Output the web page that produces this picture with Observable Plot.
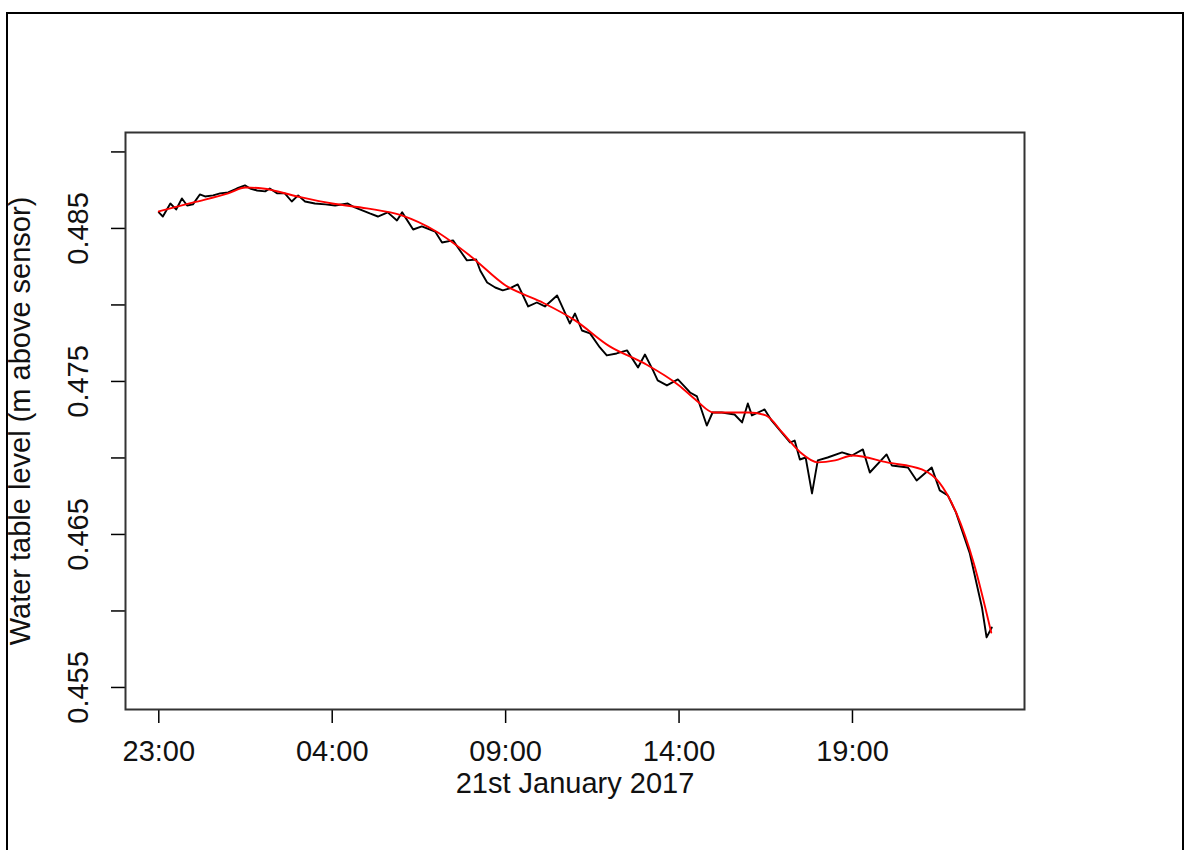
<!DOCTYPE html>
<html>
<head>
<meta charset="utf-8">
<script src="https://cdn.jsdelivr.net/npm/d3@7"></script>
<script src="https://cdn.jsdelivr.net/npm/@observablehq/plot@0.6"></script>
<style>
  html, body { margin: 0; padding: 0; background: #fff; overflow: hidden; }
  #wrap { position: relative; width: 1192px; height: 850px; }
  #border { position: absolute; left: 6px; top: 12px; width: 1178px; height: 900px; border: 2px solid #000; box-sizing: border-box; }
  #chart { position: absolute; left: 0; top: 0; }
</style>
</head>
<body>
<div id="wrap"><div id="border"></div><div id="chart"></div></div>
<script>
// Raw series: minutes after 23:00 (20 Jan 2017) and water level (m above sensor)
const minutes = [0,7,20,30,40,49,59,71,80,94,106,120,135,149,158,170,184,192,205,218,230,241,253,270,288,305,327,339,352,365,379,396,412,421,440,455,478,490,509,521,533,549,556,568,582,595,607,621,639,654,668,689,711,720,732,746,763,775,792,810,829,841,855,863,879,898,919,931,948,958,974,996,1009,1019,1026,1048,1060,1092,1100,1109,1119,1130,1140,1157,1182,1199,1218,1230,1259,1268,1296,1311,1337,1351,1365,1379,1403,1424,1432,1441];
const level = [0.48605,0.48578,0.48663,0.48624,0.48696,0.48650,0.48657,0.48722,0.48709,0.48716,0.48729,0.48735,0.48761,0.48781,0.48761,0.48748,0.48742,0.48761,0.48729,0.48729,0.48676,0.48716,0.48676,0.48663,0.48657,0.48650,0.48663,0.48637,0.48618,0.48598,0.48578,0.48605,0.48552,0.48605,0.48493,0.48513,0.48480,0.48408,0.48422,0.48356,0.48291,0.48297,0.48225,0.48147,0.48114,0.48095,0.48108,0.48134,0.47990,0.48016,0.47990,0.48062,0.47879,0.47944,0.47833,0.47814,0.47722,0.47670,0.47683,0.47703,0.47591,0.47676,0.47572,0.47507,0.47474,0.47513,0.47428,0.47402,0.47212,0.47297,0.47297,0.47284,0.47232,0.47356,0.47278,0.47317,0.47245,0.47101,0.47114,0.46990,0.47003,0.46768,0.46984,0.47003,0.47036,0.47016,0.47056,0.46905,0.47023,0.46951,0.46938,0.46853,0.46938,0.46788,0.46755,0.46644,0.46376,0.46023,0.45827,0.45892];

// Smoothed (red) series: hours after 23:00 and level
const smoothHours = [0,1,2,2.5,3,4,5,6,7,8,9,10,11,12,13,14,15,15.5,16,17,17.5,18,18.5,19,19.5,20,21,22,22.5,23,23.5,24];
const smoothLevel = [0.48611,0.48670,0.48729,0.48768,0.48761,0.48709,0.48663,0.48631,0.48585,0.48480,0.48317,0.48127,0.48023,0.47899,0.47729,0.47618,0.47474,0.47376,0.47297,0.47297,0.47278,0.47160,0.47036,0.46971,0.46984,0.47016,0.46971,0.46925,0.46840,0.46637,0.46310,0.45859];

const xTickHours = [0,5,10,15,20];
const xTickLabels = ["23:00","04:00","09:00","14:00","19:00"];
const yTicks = [0.455,0.460,0.465,0.470,0.475,0.480,0.485,0.490];
const yLabels = [0.455,0.465,0.475,0.485];
const xTitle = "21st January 2017";
const yTitle = "Water table level (m above sensor)";

const start = Date.UTC(2017,0,20,23,0);
const H = 3600e3;
const raw = minutes.map((m,i) => ({t: new Date(start + m*60e3), v: level[i]}));
const smooth = smoothHours.map((h,i) => ({t: new Date(start + h*H), v: smoothLevel[i]}));
const xTicks = xTickHours.map(h => new Date(start + h*H));
const xTickData = xTickHours.map((h,i) => ({t: new Date(start + h*H), label: xTickLabels[i]}));

const FS = 29;
const chart = Plot.plot({
  width: 1192,
  height: 850,
  marginLeft: 125,
  marginRight: 168,
  marginTop: 132,
  marginBottom: 141,
  x: {type: "utc", domain: [new Date(start - 0.96*H), new Date(start + 24.96*H)]},
  y: {domain: [0.45356, 0.49127]},
  style: {fontFamily: "'Liberation Sans', Arial, sans-serif", fontSize: FS + "px", color: "#000", background: "transparent"},
  marks: [
    Plot.axisX({ticks: xTicks, tickSize: 14, tickFormat: () => "", label: null, strokeWidth: 1.5}),
    Plot.axisY({ticks: yTicks, tickSize: 14, tickFormat: () => "", label: null, strokeWidth: 1.5}),
    Plot.text(xTickData, {x: "t", text: "label", frameAnchor: "bottom", dy: 42, lineAnchor: "middle", fontSize: FS, fill: "#111"}),
    Plot.text(yLabels, {y: d => d, text: d => d.toFixed(3), frameAnchor: "left", dx: -47, rotate: -90, textAnchor: "middle", lineAnchor: "middle", fontSize: FS, fill: "#111"}),
    Plot.text([xTitle], {frameAnchor: "bottom", dy: 74, lineAnchor: "middle", fontSize: FS, fill: "#111"}),
    Plot.text([yTitle], {frameAnchor: "left", dx: -105, rotate: -90, textAnchor: "middle", lineAnchor: "middle", fontSize: FS, fill: "#111"}),
    Plot.line(raw, {x: "t", y: "v", stroke: "#000", strokeWidth: 1.9}),
    Plot.line(smooth, {x: "t", y: "v", stroke: "#ff0000", strokeWidth: 1.9, curve: "monotone-x"}),
    Plot.frame({stroke: "#333", strokeWidth: 2})
  ]
});
document.getElementById("chart").appendChild(chart);
</script>
</body>
</html>
